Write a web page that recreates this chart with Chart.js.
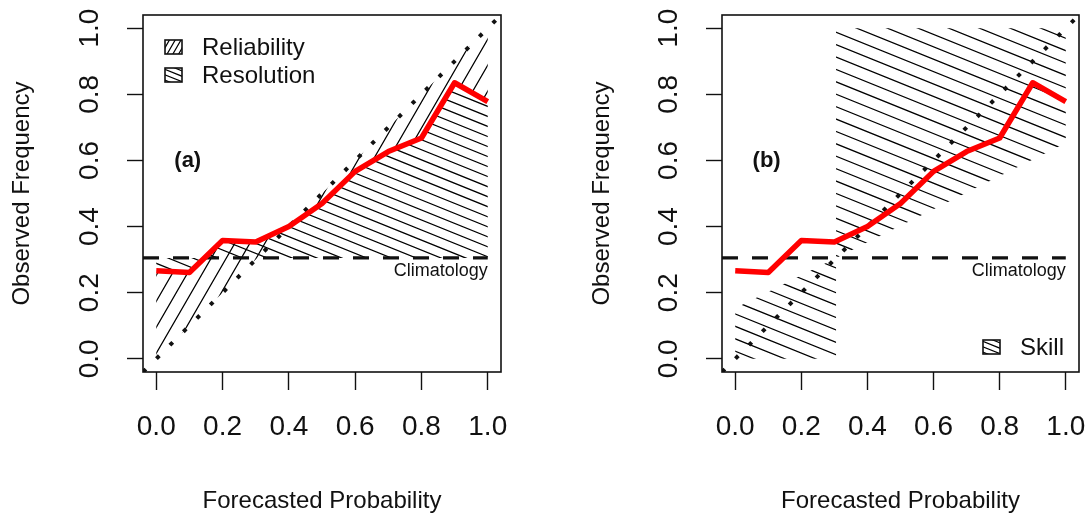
<!DOCTYPE html>
<html>
<head>
<meta charset="utf-8">
<script src="https://cdn.jsdelivr.net/npm/chart.js@4.4.0/dist/chart.umd.min.js"></script>
<style>
  html, body { margin: 0; padding: 0; background: #fff; }
  #wrap { position: relative; width: 1090px; height: 519px; }
  .panel { position: absolute; top: 0; }
  #pa { left: 0; }
  #pb { left: 580px; }
</style>
</head>
<body>
<div id="wrap">
  <div class="panel" id="pa"><canvas id="chartA" width="580" height="519"></canvas></div>
  <div class="panel" id="pb"><canvas id="chartB" width="510" height="519"></canvas></div>
</div>
<script>
// --- data ---
const forecastProb = [0.0, 0.1, 0.2, 0.3, 0.4, 0.5, 0.6, 0.7, 0.8, 0.9, 1.0];
const observedFreq = [0.266, 0.261, 0.358, 0.353, 0.400, 0.470, 0.567, 0.627, 0.668, 0.835, 0.778];
const climatology = 0.305;
const axisRange = [-0.04, 1.04];
const tickValues = [0.0, 0.2, 0.4, 0.6, 0.8, 1.0];
const tickLabels = ['0.0', '0.2', '0.4', '0.6', '0.8', '1.0'];

const FONT = "'Liberation Sans', Arial, sans-serif";
const INK = '#111';

// helpers: data -> pixel via the chart scales
function toPx(chart, x, y) {
  return [chart.scales.x.getPixelForValue(x), chart.scales.y.getPixelForValue(y)];
}
function polyPath(chart, pts) {
  return ctx => pts.forEach(([x, y], i) => {
    const [X, Y] = toPx(chart, x, y);
    i ? ctx.lineTo(X, Y) : ctx.moveTo(X, Y);
  });
}

// parallel hatch lines clipped to one or more paths
function hatch(ctx, box, paths, angleDeg, gap, width) {
  ctx.save();
  ctx.beginPath();
  paths.forEach(p => { p(ctx); ctx.closePath(); });
  ctx.clip();
  const a = angleDeg * Math.PI / 180;
  const dx = Math.cos(a), dy = -Math.sin(a);
  const nx = -dy, ny = dx;
  const cx = (box.left + box.right) / 2, cy = (box.top + box.bottom) / 2;
  const R = Math.hypot(box.right - box.left, box.bottom - box.top);
  ctx.beginPath();
  for (let k = -R; k <= R; k += gap) {
    const px = cx + nx * k, py = cy + ny * k;
    ctx.moveTo(px - dx * R, py - dy * R);
    ctx.lineTo(px + dx * R, py + dy * R);
  }
  ctx.strokeStyle = '#000';
  ctx.lineWidth = width || 1;
  ctx.stroke();
  ctx.restore();
}

function rectPath(x, y, w, h) {
  return ctx => ctx.rect(x, y, w, h);
}

function legendBox(ctx, x, y, w, h, angle, gap) {
  hatch(ctx, {left: x, right: x + w, top: y, bottom: y + h}, [rectPath(x, y, w, h)], angle, gap, 1.2);
  ctx.save();
  ctx.strokeStyle = INK;
  ctx.lineWidth = 1.6;
  ctx.strokeRect(x, y, w, h);
  ctx.restore();
}

function panelPlugin(cfg) {
  return {
    id: 'panel' + cfg.tag,
    beforeDatasetsDraw(chart) {
      const a = chart.chartArea;
      cfg.regions.forEach(r => {
        hatch(chart.ctx, a, r.polys.map(p => polyPath(chart, p)), r.angle, r.gap, 1.25);
      });
    },
    afterDraw(chart) {
      const ctx = chart.ctx, a = chart.chartArea;
      ctx.save();
      // frame
      ctx.strokeStyle = INK;
      ctx.lineWidth = 1.6;
      ctx.strokeRect(a.left, a.top, a.right - a.left, a.bottom - a.top);

      // y tick labels, rotated like R's default
      ctx.fillStyle = INK;
      ctx.font = '28px ' + FONT;
      ctx.textAlign = 'center';
      ctx.textBaseline = 'middle';
      tickValues.forEach((v, i) => {
        const y = chart.scales.y.getPixelForValue(v);
        ctx.save();
        ctx.translate(a.left - 53, y);
        ctx.rotate(-Math.PI / 2);
        ctx.fillText(tickLabels[i], 0, 0);
        ctx.restore();
      });

      // panel tag
      ctx.font = 'bold 22px ' + FONT;
      const [tx, ty] = toPx(chart, 0.095, 0.6);
      ctx.fillText('(' + cfg.tag + ')', tx, ty);

      // climatology label
      ctx.font = '18px ' + FONT;
      ctx.textAlign = 'right';
      const [cxp, cyp] = toPx(chart, 1.0, climatology);
      ctx.fillText('Climatology', cxp, cyp + 13);

      // legend
      ctx.font = '24px ' + FONT;
      ctx.textAlign = 'left';
      cfg.legend.forEach(l => {
        const bx = l.right ? a.right - l.dx : a.left + l.dx;
        const by = l.bottom ? a.bottom - l.dy : a.top + l.dy;
        legendBox(ctx, bx, by - 7, 17, 14, l.angle, 5);
        ctx.fillStyle = INK;
        ctx.fillText(l.text, bx + 37, by + 1);
      });
      ctx.restore();
    }
  };
}

function makeChart(canvasId, cfg) {
  const curve = forecastProb.map((p, i) => ({x: p, y: observedFreq[i]}));
  return new Chart(document.getElementById(canvasId), {
    type: 'line',
    data: {
      datasets: [
        {
          data: curve, borderColor: '#ff0000', borderWidth: 5.5,
          pointRadius: 0, borderJoinStyle: 'round', tension: 0, order: 1
        },
        {
          data: [{x: axisRange[0], y: climatology}, {x: 1.0, y: climatology}],
          borderColor: INK, borderWidth: 3.2, borderDash: [16, 14],
          pointRadius: 0, order: 2
        },
        {
          data: [{x: axisRange[0], y: axisRange[0]}, {x: axisRange[1], y: axisRange[1]}],
          borderColor: INK, borderWidth: 4, borderDash: [4, 15],
          pointRadius: 0, order: 3
        }
      ]
    },
    options: {
      responsive: false,
      animation: false,
      layout: { padding: { left: 0, top: 15, right: cfg.padRight, bottom: 0 } },
      plugins: { legend: { display: false }, tooltip: { enabled: false } },
      scales: {
        x: {
          type: 'linear', min: axisRange[0], max: axisRange[1],
          afterBuildTicks: s => { s.ticks = tickValues.map(v => ({value: v})); },
          afterFit: s => { s.height = 147; s.paddingLeft = 0; s.paddingRight = 0; },
          ticks: {
            autoSkip: false, maxRotation: 0, minRotation: 0, padding: 20,
            color: INK, font: { family: FONT, size: 28 },
            callback: v => tickLabels[tickValues.indexOf(v)] ?? ''
          },
          grid: { drawOnChartArea: false, drawTicks: true, tickLength: 18, tickColor: INK, tickWidth: 1.4 },
          border: { display: false },
          title: {
            display: true, text: 'Forecasted Probability', color: INK,
            font: { family: FONT, size: 24 }, padding: { top: 0, bottom: 3 }
          }
        },
        y: {
          type: 'linear', min: axisRange[0], max: axisRange[1],
          afterBuildTicks: s => { s.ticks = tickValues.map(v => ({value: v})); },
          afterFit: s => { s.width = cfg.yWidth; s.paddingTop = 0; s.paddingBottom = 0; },
          ticks: { display: false },
          grid: { drawOnChartArea: false, drawTicks: true, tickLength: 16, tickColor: INK, tickWidth: 1.4 },
          border: { display: false },
          title: {
            display: true, text: 'Observed Frequency', color: INK,
            font: { family: FONT, size: 24 }, padding: { top: 8, bottom: 0 }
          }
        }
      }
    },
    plugins: [panelPlugin(cfg)]
  });
}

const curvePts = forecastProb.map((p, i) => [p, observedFreq[i]]);
const reliabilityPoly = curvePts.concat(forecastProb.slice().reverse().map(p => [p, p]));
const resolutionPoly = curvePts.concat(forecastProb.slice().reverse().map(p => [p, climatology]));
const noSkill = x => (x + climatology) / 2;
const skillLow = [[0, 0], [climatology, 0], [climatology, climatology], [0, noSkill(0)]];
const skillHigh = [[climatology, climatology], [1, noSkill(1)], [1, 1], [climatology, 1]];

makeChart('chartA', {
  tag: 'a', yWidth: 143, padRight: 79,
  regions: [
    { polys: [reliabilityPoly], angle: 60, gap: 13 },
    { polys: [resolutionPoly], angle: -22, gap: 9.3 }
  ],
  legend: [
    { text: 'Reliability', dx: 22, dy: 32, angle: 60 },
    { text: 'Resolution', dx: 22, dy: 60, angle: -22 }
  ]
});

makeChart('chartB', {
  tag: 'b', yWidth: 142, padRight: 11,
  regions: [
    { polys: [skillLow, skillHigh], angle: -22, gap: 11.5 }
  ],
  legend: [
    { text: 'Skill', dx: 96, dy: 25, right: true, bottom: true, angle: -22 }
  ]
});
</script>
</body>
</html>
